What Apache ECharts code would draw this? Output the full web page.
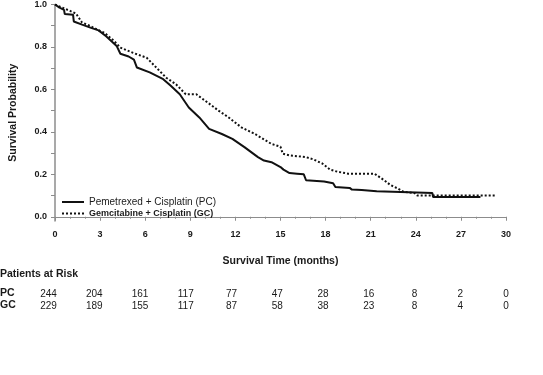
<!DOCTYPE html>
<html>
<head>
<meta charset="utf-8">
<script src="https://cdn.jsdelivr.net/npm/echarts@6/dist/echarts.min.js"></script>
<style>
  html, body { margin: 0; padding: 0; background: #fff; }
  #chart { width: 543px; height: 375px; }
</style>
</head>
<body>
<div id="chart"></div>
<script>
// Kaplan-Meier estimates, [months, survival probability]
const pcCurve = [
  [0, 1.0], [0.3, 0.985], [0.6, 0.975], [0.65, 0.955], [1.2, 0.952], [1.25, 0.92], [1.8, 0.905],
  [2.4, 0.89], [2.9, 0.878], [3.4, 0.85], [4.1, 0.805], [4.35, 0.768], [4.9, 0.755], [5.25, 0.74],
  [5.45, 0.703], [6.3, 0.68], [7.2, 0.648], [7.7, 0.617], [8.3, 0.577], [8.9, 0.515], [9.6, 0.468],
  [10.25, 0.414], [11.1, 0.39], [11.8, 0.367], [12.6, 0.328], [13.5, 0.281], [13.9, 0.265],
  [14.4, 0.257], [15.0, 0.234], [15.2, 0.222], [15.6, 0.206], [16.1, 0.203], [16.55, 0.2],
  [16.7, 0.172], [17.9, 0.166], [18.0, 0.162], [18.5, 0.158], [18.65, 0.14], [19.6, 0.136],
  [19.75, 0.128], [20.4, 0.126], [20.5, 0.122], [21.4, 0.12], [21.5, 0.112], [25.1, 0.112],
  [25.15, 0.093], [28.3, 0.093]
];
const gcCurve = [
  [0, 1.0], [0.5, 0.985], [1.0, 0.97], [1.4, 0.957], [1.8, 0.915], [2.3, 0.9], [2.8, 0.882],
  [3.3, 0.866], [3.9, 0.83], [4.35, 0.797], [5.2, 0.772], [6.1, 0.749], [6.75, 0.702], [7.4, 0.655],
  [8.05, 0.624], [8.7, 0.577], [9.4, 0.577], [10.0, 0.546], [10.9, 0.499], [11.55, 0.468],
  [12.4, 0.421], [13.3, 0.39], [14.4, 0.343], [15.0, 0.33], [15.15, 0.297], [15.6, 0.289],
  [16.7, 0.281], [17.2, 0.27], [17.8, 0.25], [18.3, 0.222], [18.8, 0.212], [19.5, 0.203],
  [21.25, 0.203], [21.9, 0.172], [22.3, 0.15], [22.8, 0.133], [23.2, 0.117], [23.9, 0.112],
  [24.1, 0.1], [29.3, 0.1]
];
// patients at risk, every 3 months from 0 to 30
const riskMonths = [0, 3, 6, 9, 12, 15, 18, 21, 24, 27, 30];
const pcRisk = [244, 204, 161, 117, 77, 47, 28, 16, 8, 2, 0];
const gcRisk = [229, 189, 155, 117, 87, 58, 38, 23, 8, 4, 0];
const yLabels = [0, 0.2, 0.4, 0.6, 0.8, 1.0];
const yTicks = [0, 0.1, 0.2, 0.3, 0.4, 0.5, 0.6, 0.7, 0.8, 0.9, 1.0];

const font = 'Liberation Sans, Arial, sans-serif';
const ink = '#1a1a1a';
const axisGray = '#8c8c8c';

const riskAxis = (gridIndex, values) => ({
  type: 'value', gridIndex, min: 0, max: 30, interval: 3,
  axisLine: { show: false }, axisTick: { show: false }, splitLine: { show: false },
  axisLabel: {
    margin: 6, color: ink, fontFamily: font, fontSize: 10,
    formatter: (v) => {
      const i = riskMonths.indexOf(Math.round(v));
      return i < 0 ? '' : String(values[i]);
    }
  }
});
const hiddenY = (gridIndex) => ({
  type: 'value', gridIndex, show: false, min: 0, max: 1,
  splitLine: { show: false }
});
const boldText = { fontSize: 10.5, fontWeight: 'bold', color: ink, fontFamily: font };

const chart = echarts.init(document.getElementById('chart'));
chart.setOption({
  animation: false,
  backgroundColor: '#fff',
  textStyle: { fontFamily: font },
  title: [
    { text: 'Patients at Risk', left: 0, top: 268.5, padding: 0, textStyle: boldText },
    { text: 'PC', left: 0, top: 288, padding: 0, textStyle: boldText },
    { text: 'GC', left: 0, top: 300, padding: 0, textStyle: boldText }
  ],
  legend: {
    orient: 'vertical', left: 56, top: 192, itemGap: 2, itemWidth: 22, itemHeight: 8,
    itemStyle: { opacity: 0 },
    data: [
      { name: 'Pemetrexed + Cisplatin (PC)',
        textStyle: { fontSize: 10, color: ink, fontFamily: font } },
      { name: 'Gemcitabine + Cisplatin (GC)',
        textStyle: { fontSize: 9, fontWeight: 'bold', color: ink, fontFamily: font } }
    ]
  },
  grid: [
    { left: 48.5, right: 37, top: 3, bottom: 154 },
    { left: 48.5, right: 37, top: 282, height: 1 },
    { left: 48.5, right: 37, top: 294, height: 1 }
  ],
  xAxis: [
    {
      type: 'value', min: 0, max: 30, interval: 3,
      name: 'Survival Time (months)', nameLocation: 'middle', nameGap: 35,
      nameTextStyle: boldText,
      axisLine: { lineStyle: { color: axisGray, width: 1 } },
      axisTick: { length: 4, lineStyle: { color: axisGray } },
      minorTick: { show: true, splitNumber: 3, length: 2, lineStyle: { color: axisGray } },
      splitLine: { show: false },
      axisLabel: { margin: 9, fontSize: 9, fontWeight: 'bold', color: ink, fontFamily: font }
    },
    riskAxis(1, pcRisk),
    riskAxis(2, gcRisk)
  ],
  yAxis: [
    {
      type: 'value', min: -0.02, max: 1.0,
      name: 'Survival Probability', nameLocation: 'middle', nameGap: 36,
      nameTextStyle: boldText,
      axisLine: { show: true, lineStyle: { color: axisGray, width: 1.5 } },
      axisTick: { show: true, length: 4, customValues: yTicks, lineStyle: { color: axisGray } },
      splitLine: { show: false },
      axisLabel: {
        margin: 8, fontSize: 9, fontWeight: 'bold', color: ink, fontFamily: font,
        customValues: yLabels, formatter: (v) => v.toFixed(1)
      }
    },
    hiddenY(1),
    hiddenY(2)
  ],
  series: [
    {
      name: 'Pemetrexed + Cisplatin (PC)', type: 'line', symbol: 'none',
      data: pcCurve, lineStyle: { color: '#111', width: 2 }, itemStyle: { color: '#111' }
    },
    {
      name: 'Gemcitabine + Cisplatin (GC)', type: 'line', symbol: 'none',
      data: gcCurve, lineStyle: { color: '#111', width: 2, type: [2, 2] }, itemStyle: { color: '#111' }
    }
  ]
});
</script>
</body>
</html>
